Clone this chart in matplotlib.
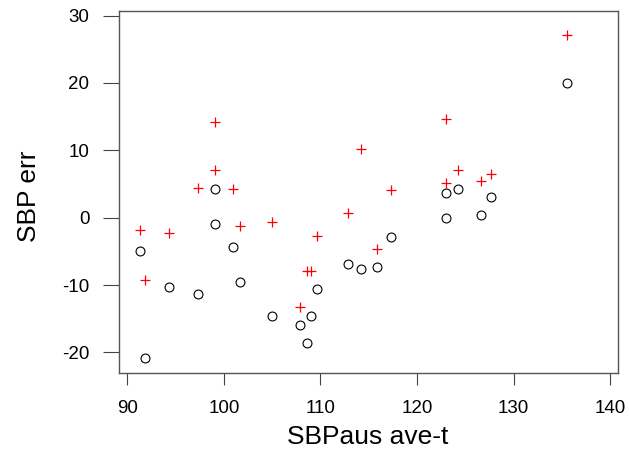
import matplotlib
matplotlib.use("Agg")
import matplotlib.pyplot as plt

plt.rcParams['font.family'] = ['Liberation Sans', 'DejaVu Sans']

# Data
sbp_aus = [91.35, 91.83, 94.35, 97.32, 99.05, 99.05, 100.97, 101.67, 105.01,
           107.9, 108.63, 108.98, 109.67, 112.88, 114.22, 115.9, 117.27,
           122.96, 122.96, 124.27, 126.58, 127.62, 135.55]
err_plus = [-1.83, -9.24, -2.32, 4.4, 14.24, 7.08, 4.21, -1.23, -0.69,
            -13.25, -7.86, -7.86, -2.67, 0.65, 10.19, -4.64, 4.11,
            14.64, 5.19, 7.08, 5.4, 6.48, 27.1]
err_circle = [-4.89, -20.77, -10.28, -11.27, 4.26, -0.93, -4.4, -9.59, -14.54,
              -15.97, -18.64, -14.54, -10.53, -6.92, -7.61, -7.37, -2.91,
              3.71, 0.0, 4.26, 0.36, 3.03, 19.99]
x_ticks = [90, 100, 110, 120, 130, 140]
y_ticks = [-20, -10, 0, 10, 20, 30]

W, H = 629, 454
fig = plt.figure(figsize=(W / 100, H / 100), dpi=100)
L, R, T, B = 119.3, 618, 11, 372.7
ax = fig.add_axes([L / W, 1 - B / H, (R - L) / W, (B - T) / H])

ax.plot(sbp_aus, err_circle, linestyle='none', marker='o', markersize=6.4,
        markerfacecolor='none', markeredgecolor='black', markeredgewidth=0.8)
ax.plot(sbp_aus, err_plus, linestyle='none', marker='+', markersize=7.8,
        color='#ff0000', markeredgewidth=0.9)

ax.set_xlim(89.17, 140.8)
ax.set_ylim(-23.0, 30.67)
ax.set_xticks(x_ticks)
ax.set_yticks(y_ticks)
ax.set_xticklabels([str(v) for v in x_ticks])
ax.set_yticklabels([str(v) for v in y_ticks])

for s in ax.spines.values():
    s.set_color('#555555')
    s.set_linewidth(1.0)

ax.tick_params(axis='x', direction='out', length=8.6, width=0.8, color='#444444',
               labelsize=13.5, pad=11, labelcolor='black')
ax.tick_params(axis='y', direction='out', length=11.5, width=0.8, color='#444444',
               labelsize=13.5, pad=10, labelcolor='black')

fig.text(368 / W, 1 - 444 / H, 'SBPaus ave-t', ha='center', va='baseline',
         fontsize=19)
fig.text(29 / W, 1 - 196 / H, 'SBP err', ha='center', va='center',
         rotation=90, fontsize=19)

fig.savefig('out.png', dpi=100)
